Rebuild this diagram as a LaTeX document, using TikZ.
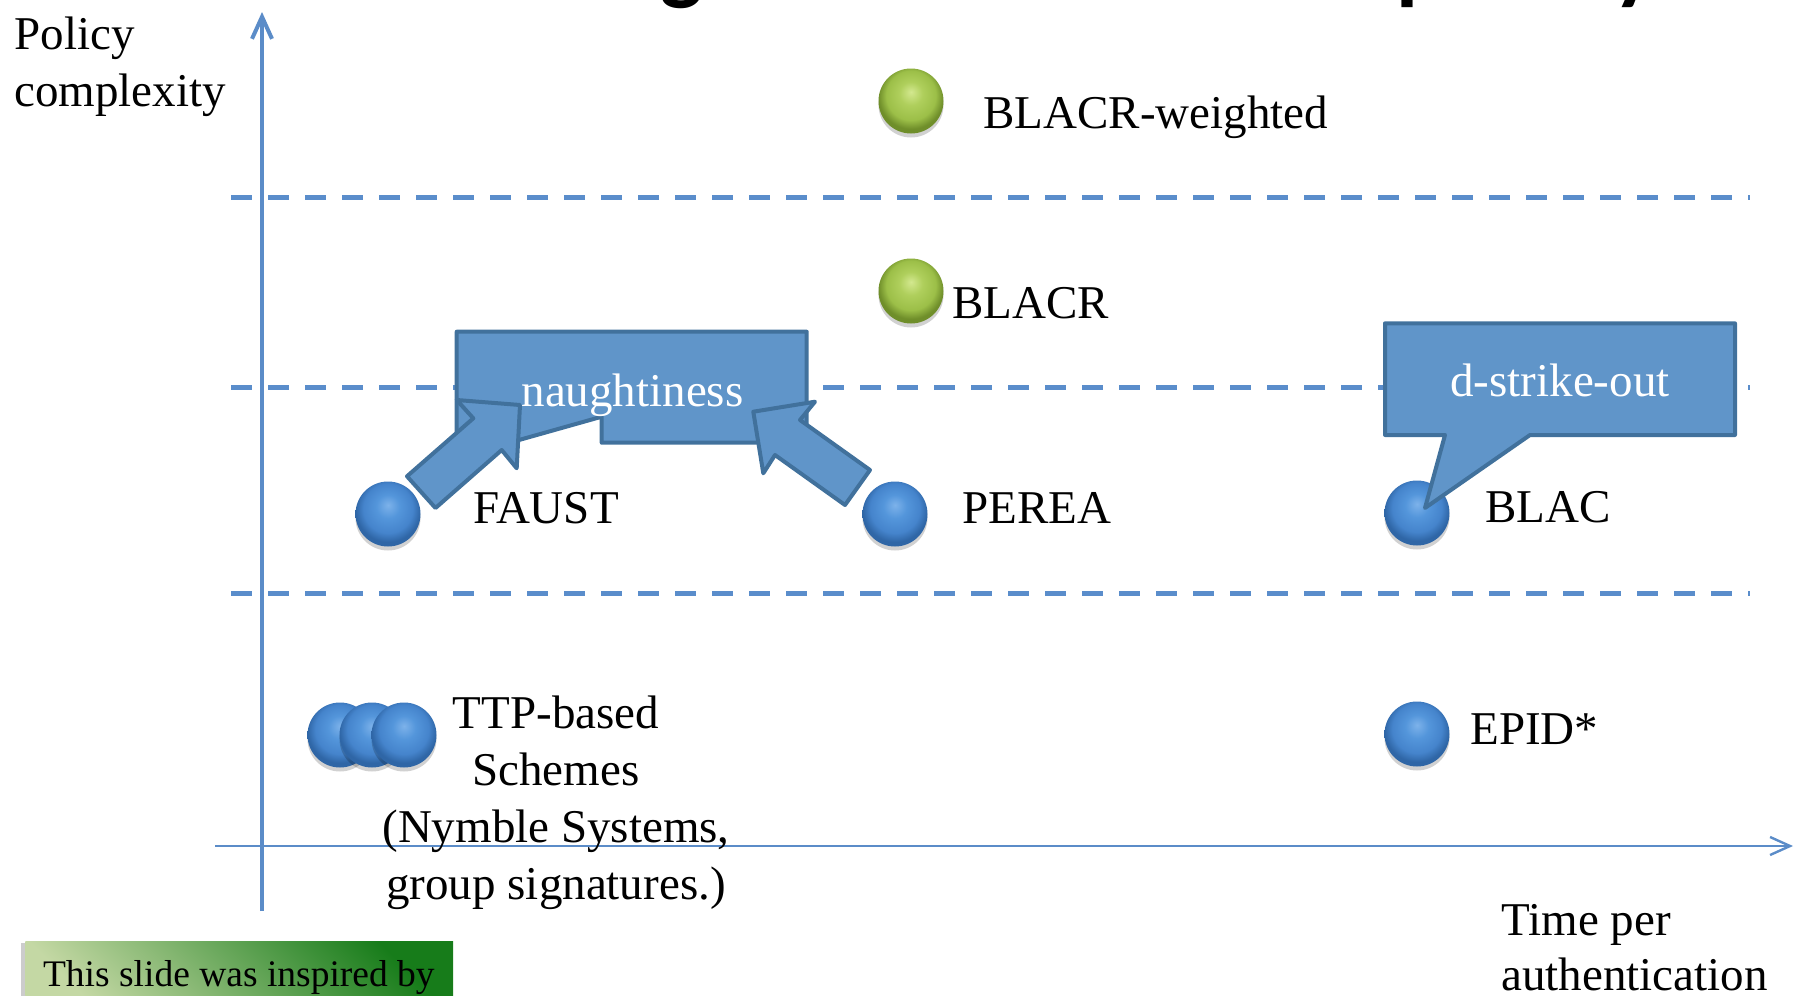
\documentclass[tikz,border=0pt]{standalone}
\usepackage{fontspec}
\setmainfont{Liberation Serif}
\newfontfamily\titlefont{Carlito}
\usetikzlibrary{shadows,arrows.meta}

\definecolor{axisblue}{HTML}{5B8CC8}
\definecolor{dashblue}{HTML}{5A8DCB}
\definecolor{callfill}{HTML}{6095C9}
\definecolor{calldraw}{HTML}{41719C}
\definecolor{bsA}{HTML}{7DB2EA}
\definecolor{bsB}{HTML}{5496DB}
\definecolor{bsC}{HTML}{4584CC}
\definecolor{bsD}{HTML}{2F66A6}
\definecolor{gsA}{HTML}{D3E88F}
\definecolor{gsB}{HTML}{AFCF5C}
\definecolor{gsC}{HTML}{9CBF48}
\definecolor{gsD}{HTML}{6F8E2A}
\definecolor{boxlight}{HTML}{C4D8A4}
\definecolor{boxmid}{HTML}{7FAE62}
\definecolor{boxdark}{HTML}{177C1A}

% glossy balls: light cap shifted upwards, darker rim
\pgfdeclareradialshading{bluesph}{\pgfpoint{0bp}{7bp}}{color(0bp)=(bsA); color(9bp)=(bsB); color(19bp)=(bsC); color(25bp)=(bsD); color(50bp)=(bsD)}
\pgfdeclareradialshading{greensph}{\pgfpoint{0bp}{7bp}}{color(0bp)=(gsA); color(9bp)=(gsB); color(19bp)=(gsC); color(25bp)=(gsD); color(50bp)=(gsD)}

\tikzset{
  ball/.style={circle, minimum size=32.5pt, inner sep=0pt,
    drop shadow={shadow xshift=0pt, shadow yshift=-2pt, opacity=0.18, fill=black}},
  blueball/.style={ball, shade, shading=bluesph},
  greenball/.style={ball, shade, shading=greensph},
  lbl/.style={anchor=base west, inner sep=0pt, font=\fontsize{23.5}{28.5}\selectfont},
  calltext/.style={anchor=base, inner sep=0pt, text=white, font=\fontsize{23.5}{28.5}\selectfont},
  bubble/.style={fill=callfill, draw=calldraw, line width=2pt, line join=round},
  levelline/.style={draw=dashblue, line width=2.5pt, dash pattern=on 10.5pt off 8pt},
  axisline/.style={draw=axisblue},
  titlefrag/.style={anchor=base west, inner sep=0pt, font=\titlefont\bfseries\fontsize{45}{54}\selectfont},
}

\begin{document}
\begin{tikzpicture}[x=0.5pt, y=-0.5pt]
\useasboundingbox (0,0) rectangle (1796,996);
\clip (0,0) rectangle (1796,996);

% title descenders peeking in at the top edge
\node[titlefrag] (tg) at (660,-7) {g};
\node[titlefrag] (tp) at (1396,-7) {p};
\node[titlefrag] (ty) at (1613,-7) {y};

% complexity levels
\draw[levelline] (231,197) -- (1750,197);
\draw[levelline] (231,387) -- (1750,387);
\draw[levelline] (231,593) -- (1750,593);

% axes
\coordinate (ybot) at (262,911);
\coordinate (ytop) at (262,12);
\coordinate (xleft) at (215,846);
\coordinate (xright) at (1793,846);
\draw[axisline, line width=2pt, -{Straight Barb[length=11pt,width=10pt,line width=2pt]}] (ybot) -- (ytop);
\draw[axisline, line width=1pt, -{Straight Barb[length=10pt,width=9pt,line width=1.2pt]}] (xleft) -- (xright);

% multi-line labels: the base anchor sits on the last line
\node[lbl, align=left] (ylab) at (14,106) {Policy\\complexity};
\node[lbl, align=left, font=\fontsize{23.5}{27.5}\selectfont] (xlab) at (1501,990) {Time per\\authentication};

% schemes
\node[greenball] (bw) at (911,101) {};
\node[lbl] (bwl) at (983,128) {BLACR-weighted};
\node[greenball] (blacr) at (911,291) {};
\node[lbl] (blacrl) at (952,318) {BLACR};

\node[blueball] (faust) at (388,514) {};
\node[lbl] (faustl) at (473,523) {FAUST};
\node[blueball] (perea) at (895,514) {};
\node[lbl] (pereal) at (962,523) {PEREA};
\node[blueball] (blac) at (1417,513) {};
\node[lbl] (blacl) at (1485,522) {BLAC};

\node[blueball] (ttpa) at (340,735) {};
\node[blueball] (ttpb) at (372,735) {};
\node[blueball] (ttpc) at (404,735) {};
\node[anchor=base, inner sep=0pt, align=center, font=\fontsize{23.5}{28.5}\selectfont] (ttpl) at (556,899) {TTP-based\\Schemes\\(Nymble Systems,\\group signatures.)};

\node[blueball] (epid) at (1417,734) {};
\node[lbl] (epidl) at (1470,744) {EPID*};

% naughtiness callout
\draw[bubble] (456.7,331.7) -- (806.7,331.7) -- (806.7,442.7) -- (601.7,442.7)
  -- (601.7,416.7) -- (480,451) -- (470,442.7) -- (456.7,442.7) -- cycle;
\node[calltext] (naught) at (632.5,406) {naughtiness};

% block arrows into the callout
\draw[bubble] (520,405) -- (516.7,468.3) -- (501.7,450) -- (435.5,508)
  -- (407,476.3) -- (473.3,418.3) -- (456.7,400) -- cycle;
\draw[bubble] (753.3,411.7) -- (815,401.7) -- (800,420) -- (870,470)
  -- (845,505) -- (775,455) -- (763.3,473.3) -- cycle;

% d-strike-out callout pointing at BLAC
\coordinate (dtip) at (1425,508);
\draw[bubble] (1385,323.3) -- (1735,323.3) -- (1735,435) -- (1530,435)
  -- (dtip) -- (1445,435) -- (1385,435) -- cycle;
\node[calltext] (dstrike) at (1560,396.7) {d-strike-out};

% credit box
\node[anchor=north west, minimum width=213.85pt, minimum height=35pt, inner sep=0pt,
  drop shadow={shadow xshift=-2pt, shadow yshift=-1pt, opacity=0.2, fill=black},
  bottom color=boxlight, middle color=boxmid, top color=boxdark, shading angle=-45] (credit) at (25,941) {};
\node[anchor=base, inner sep=0pt, font=\fontsize{18.75}{22}\selectfont] (credittext) at (238.9,986.7) {This slide was inspired by};
\end{tikzpicture}
\end{document}
